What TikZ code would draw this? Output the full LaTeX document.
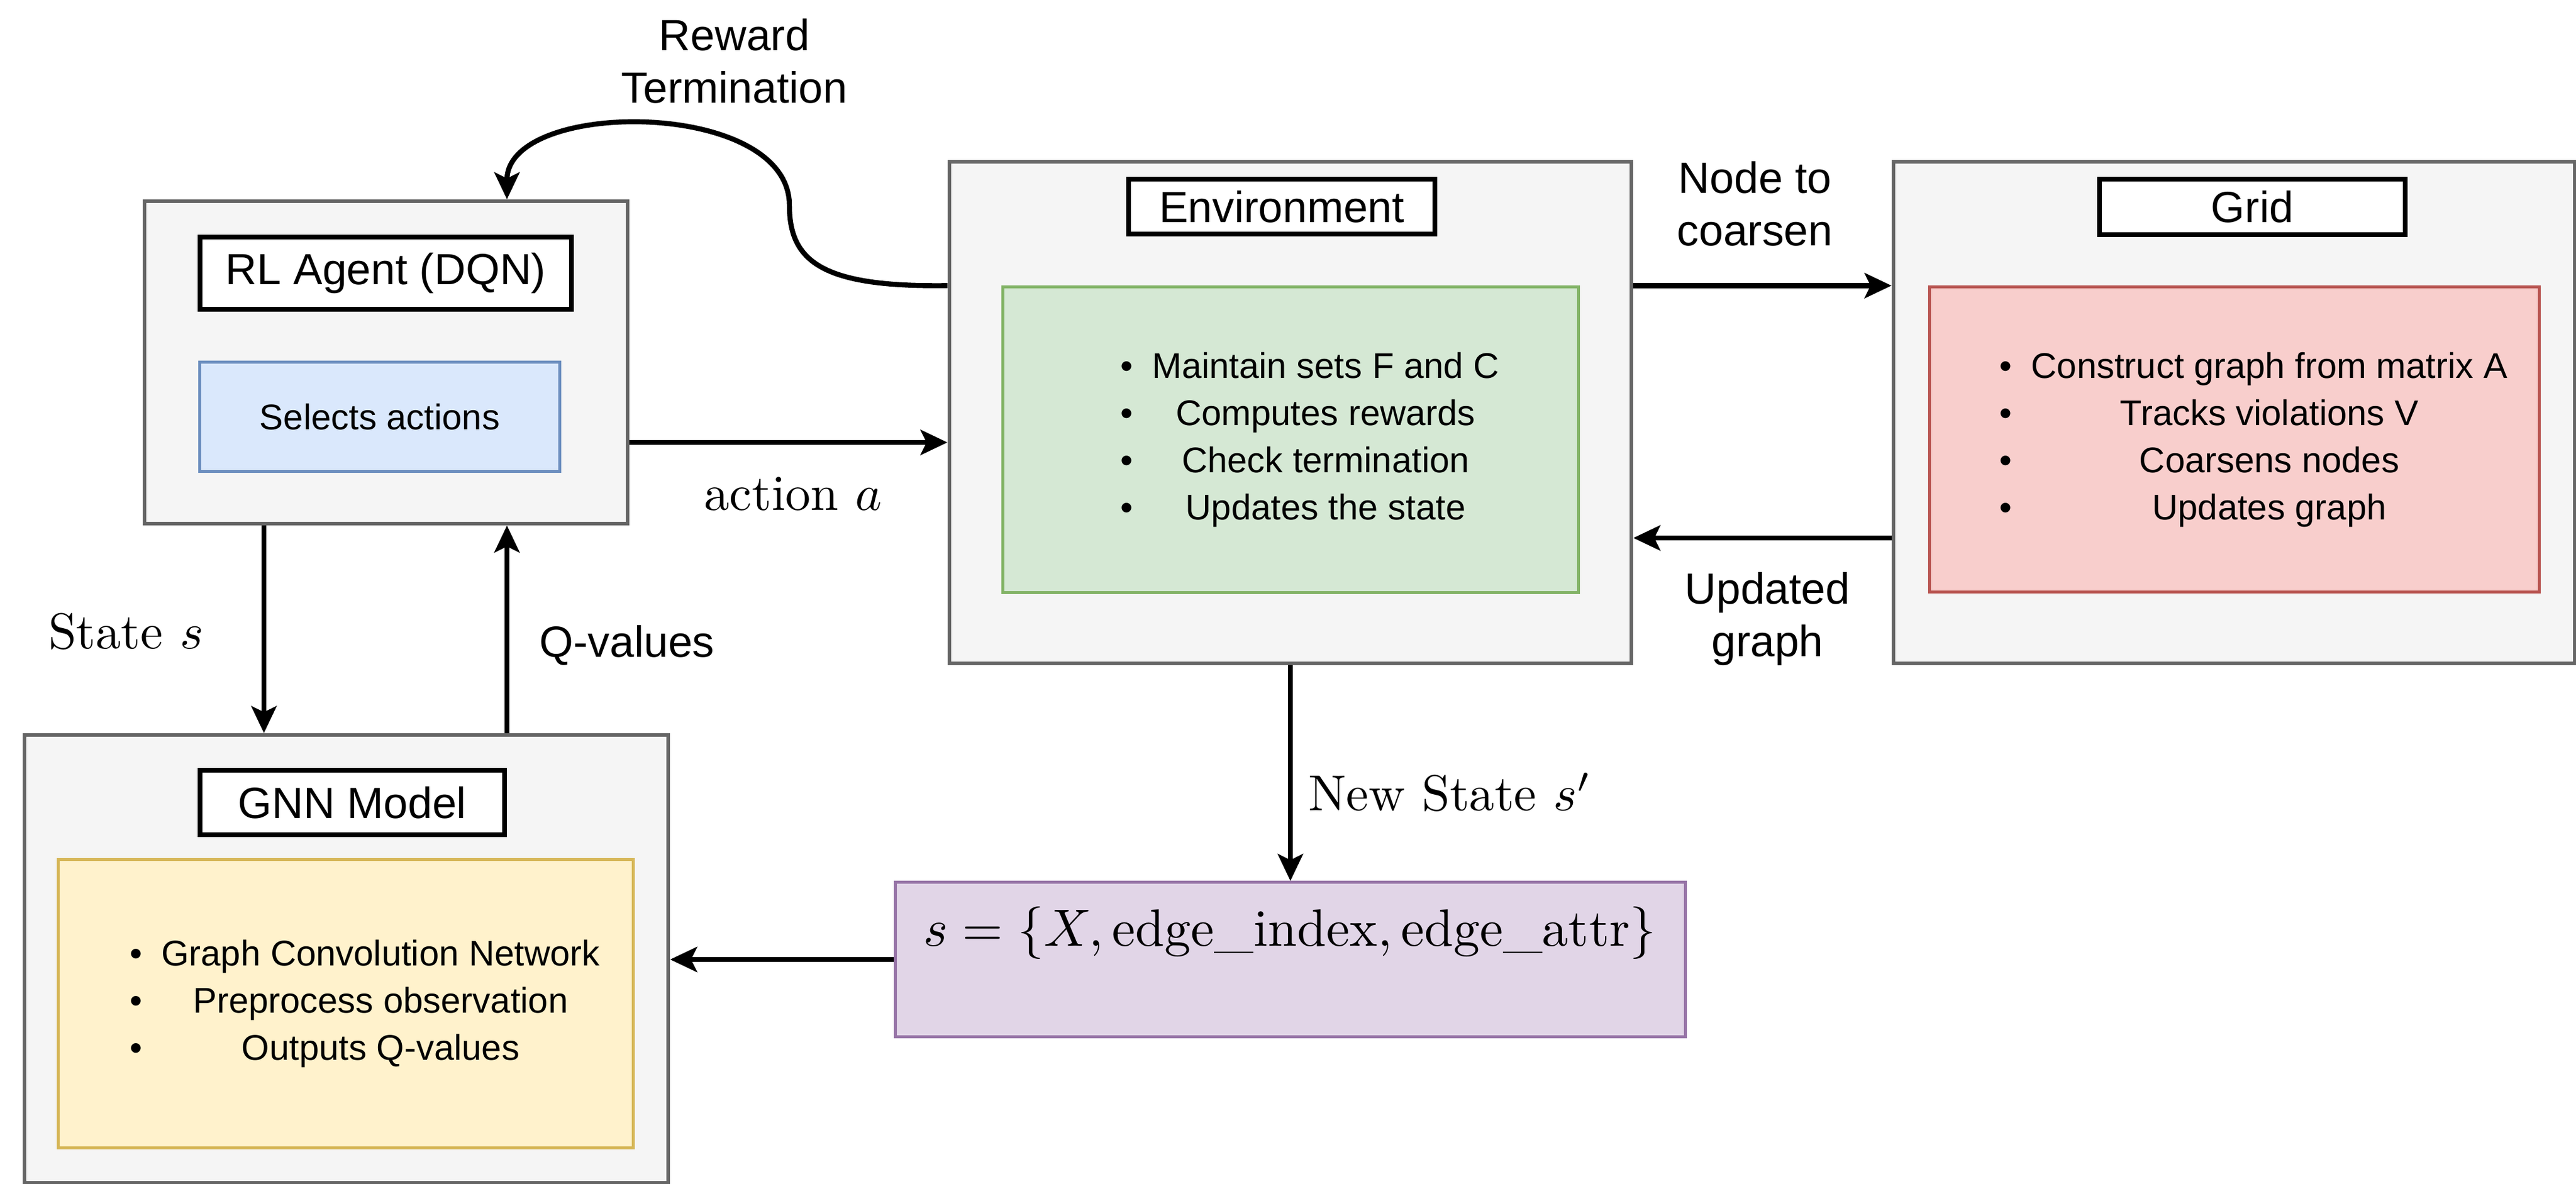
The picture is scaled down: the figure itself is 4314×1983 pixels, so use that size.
\documentclass[tikz,border=0pt]{standalone}
\usepackage{amssymb, amsmath}
\usepackage{graphicx}
\usepackage{fontspec}
\newfontfamily\helv{Liberation Sans}
\usepackage{tikz}
\usetikzlibrary{arrows.meta, calc}
\definecolor{boxfill}{HTML}{F5F5F5}
\definecolor{boxline}{HTML}{666666}
\definecolor{bluefill}{HTML}{DAE8FC}
\definecolor{blueline}{HTML}{6C8EBF}
\definecolor{greenfill}{HTML}{D5E8D4}
\definecolor{greenline}{HTML}{82B366}
\definecolor{redfill}{HTML}{F8CECC}
\definecolor{redline}{HTML}{B85450}
\definecolor{yellowfill}{HTML}{FFF2CC}
\definecolor{yellowline}{HTML}{D6B656}
\definecolor{purplefill}{HTML}{E1D5E7}
\definecolor{purpleline}{HTML}{9673A6}

\begin{document}
\begin{tikzpicture}[x=0.01cm, y=-0.01cm,
  outer/.style={draw=boxline, fill=boxfill, line width=1.7pt, inner sep=0pt},
  titlebox/.style={draw=black, fill=white, line width=2.3pt, inner sep=0pt, font=\helv\fontsize{20.8}{25}\selectfont},
  inner/.style={line width=1.4pt, inner sep=0pt, font=\helv\fontsize{17}{22.5}\selectfont},
  conn/.style={-{Stealth[length=0.45cm, width=0.42cm, inset=0.1cm]}, line width=2.4pt},
  lbl/.style={font=\helv\fontsize{20.8}{25}\selectfont, align=center},
  mlbl/.style={font=\fontsize{10}{12}\selectfont}]

  \useasboundingbox (0, 0) rectangle (4314, 1983);

  \node [outer, minimum width=8.09cm, minimum height=5.40cm] (agent) at (646.5, 607) {};
  \node [titlebox, minimum width=6.22cm, minimum height=1.21cm] (agenttitle) at (646, 457.5) {RL Agent (DQN)};
  \node [inner, draw=blueline, fill=bluefill, minimum width=6.02cm, minimum height=1.82cm] (agentbox) at (636, 698) {Selects actions};

  \node [outer, minimum width=11.42cm, minimum height=8.40cm] (env) at (2161, 691) {};
  \node [titlebox, minimum width=5.13cm, minimum height=0.92cm] (envtitle) at (2146.5, 346) {Environment};
  \node [inner, draw=greenline, fill=greenfill, minimum width=9.63cm, minimum height=5.11cm] (envbox) at (2161.5, 736.5)
    {\begin{tabular}{@{\hspace{0.64cm}}c@{\hspace{0.32cm}}c@{}}
      \textbullet & Maintain sets F and C \\
      \textbullet & Computes rewards \\
      \textbullet & Check termination \\
      \textbullet & Updates the state
    \end{tabular}};

  \node [outer, minimum width=11.41cm, minimum height=8.40cm] (grid) at (3741.5, 691) {};
  \node [titlebox, minimum width=5.12cm, minimum height=0.93cm] (gridtitle) at (3772, 346.5) {Grid};
  \node [inner, draw=redline, fill=redfill, minimum width=10.20cm, minimum height=5.10cm] (gridbox) at (3742, 736)
    {\begin{tabular}{@{\hspace{0.64cm}}c@{\hspace{0.32cm}}c@{}}
      \textbullet & Construct graph from matrix A \\
      \textbullet & Tracks violations V \\
      \textbullet & Coarsens nodes \\
      \textbullet & Updates graph
    \end{tabular}};

  \node [outer, minimum width=10.78cm, minimum height=7.50cm] (gnn) at (580, 1606) {};
  \node [titlebox, minimum width=5.10cm, minimum height=1.08cm] (gnntitle) at (590, 1344) {GNN Model};
  \node [inner, draw=yellowline, fill=yellowfill, minimum width=9.62cm, minimum height=4.82cm] (gnnbox) at (579, 1681)
    {\begin{tabular}{@{\hspace{0.64cm}}c@{\hspace{0.32cm}}c@{}}
      \textbullet & Graph Convolution Network \\
      \textbullet & Preprocess observation \\
      \textbullet & Outputs Q-values
    \end{tabular}};

  \node [inner, draw=purpleline, fill=purplefill, minimum width=13.22cm, minimum height=2.58cm] (state) at (2161, 1607) {};
  \node [mlbl] (statetext) at (2160, 1563) {\scalebox{2.5}{$s = \{X, \mathrm{edge\_index}, \mathrm{edge\_attr}\}$}};

  \draw [conn] (env.west |- envbox.north) .. controls (1380, 481) and (1322, 440) .. (1322, 344) .. controls (1322, 165) and (849, 165) .. ($(agent.north)+(202.5, 0)$);
  \node [lbl] (rewardlbl) at (1230, 102) {Reward\\Termination};

  \draw [conn] ($(agent.east)+(0, 134)$) coordinate (actstart) -- (actstart -| env.west) node [midway, mlbl, xshift=0.08cm, yshift=-0.86cm] (actionlbl) {\scalebox{2.4}{action $a$}};

  \draw [conn] ($(agent.south)+(-204.5, 0)$) coordinate (sstart) -- (sstart |- gnn.north);
  \node [mlbl] (statelbl) at (211, 1058) {\scalebox{2.4}{State $s$}};

  \draw [conn] ($(gnn.north)+(269, 0)$) coordinate (qstart) -- (qstart |- agent.south);
  \node [lbl] (qlbl) at (1050, 1081) {Q-values};

  \draw [conn] (env.east |- envbox.north) -- (grid.west |- envbox.north);
  \node [lbl] (coarsenlbl) at (2939, 341) {Node to\\coarsen};

  \draw [conn] ($(grid.west)+(0, 210)$) coordinate (ustart) -- (ustart -| env.east);
  \node [lbl] (updatedlbl) at (2960, 1037) {Updated\\graph};

  \draw [conn] (env.south) -- (state.north);
  \node [mlbl] (newstatelbl) at (2428, 1327) {\scalebox{2.4}{New State $s'$}};

  \draw [conn] (state.west) -- (state.west -| gnn.east);

\end{tikzpicture}
\end{document}
